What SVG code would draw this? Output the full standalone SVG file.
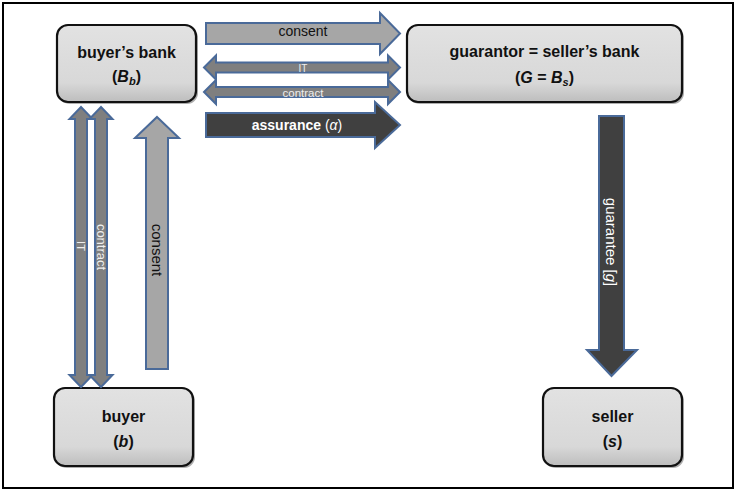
<svg xmlns="http://www.w3.org/2000/svg" width="736" height="491" viewBox="0 0 736 491">
<style>
.frame{fill:#fff;stroke:#000;stroke-width:2}
.box{fill:url(#boxg);stroke:#111;stroke-width:2.2}
.shadow{fill:#777;opacity:0.6}
.bt{font-family:"Liberation Sans",Arial,sans-serif;font-weight:bold;font-size:16px;fill:#111;text-anchor:middle}
.ar{stroke:#4a6a99;stroke-width:2;stroke-linejoin:miter}
.light{fill:#a6a6a6}
.mid{fill:#7f7f7f}
.dark{fill:#404040}
.lt{font-family:"Liberation Sans",Arial,sans-serif;text-anchor:middle}
</style>
<defs>
<linearGradient id="boxg" x1="0" y1="0" x2="0" y2="1">
<stop offset="0" stop-color="#e2e2e2"/>
<stop offset="0.75" stop-color="#d8d8d8"/>
<stop offset="1" stop-color="#bdbdbd"/>
</linearGradient>
</defs>
<rect class="frame" x="3" y="3" width="730" height="485"/>

<g id="buyers-bank">
<rect class="shadow" x="59" y="27" width="139" height="77" rx="11"/>
<rect class="box" x="57" y="25" width="139" height="77" rx="11"/>
<text class="bt" x="126.5" y="58">buyer’s bank</text>
<text class="bt" x="126.5" y="82">(<tspan font-style="italic">B</tspan><tspan font-style="italic" font-size="11" dy="3">b</tspan><tspan dy="-3">)</tspan></text>
</g>

<g id="guarantor">
<rect class="shadow" x="409" y="27" width="275" height="77" rx="11"/>
<rect class="box" x="407" y="25" width="275" height="77" rx="11"/>
<text class="bt" x="544.5" y="57">guarantor = seller’s bank</text>
<text class="bt" x="544.5" y="83">(<tspan font-style="italic">G</tspan> = <tspan font-style="italic">B</tspan><tspan font-style="italic" font-size="11" dy="3">s</tspan><tspan dy="-3">)</tspan></text>
</g>

<g id="buyer">
<rect class="shadow" x="56" y="390" width="139" height="78" rx="11"/>
<rect class="box" x="54" y="388" width="139" height="78" rx="11"/>
<text class="bt" x="123.5" y="422">buyer</text>
<text class="bt" x="123.5" y="447">(<tspan font-style="italic">b</tspan>)</text>
</g>

<g id="seller">
<rect class="shadow" x="545" y="390" width="139" height="78" rx="11"/>
<rect class="box" x="543" y="388" width="139" height="78" rx="11"/>
<text class="bt" x="612.5" y="422">seller</text>
<text class="bt" x="612.5" y="447">(<tspan font-style="italic">s</tspan>)</text>
</g>

<g id="connectors">
<!-- consent: buyer's bank -> guarantor -->
<path class="ar light" d="M206,23 H380 V13 L400,33.5 L380,54 V44 H206 Z"/>
<text class="lt" x="303" y="36" font-size="14" fill="#111">consent</text>
<!-- IT double arrow -->
<path class="ar mid" d="M204,67.5 L216,55.5 V62.5 H388 V55.5 L400,67.5 L388,79.5 V72.5 H216 V79.5 Z"/>
<text class="lt" x="303" y="71.5" font-size="10" fill="#eee">IT</text>
<!-- contract double arrow -->
<path class="ar mid" d="M204,92 L216,80 V87 H388 V80 L400,92 L388,104 V97 H216 V104 Z"/>
<text class="lt" x="303" y="96.5" font-size="11.5" fill="#eee">contract</text>
<!-- assurance -->
<path class="ar dark" d="M206,113 H375 V102 L400,125 L375,148 V137 H206 Z"/>
<text class="lt" x="297" y="130" font-size="14" fill="#fff"><tspan font-weight="bold">assurance</tspan> (<tspan font-style="italic">α</tspan>)</text>

<!-- vertical IT double arrow -->
<path class="ar mid" d="M81,107 L92.5,119 H87 V375 H92.5 L81,387 L69.5,375 H75 V119 H69.5 Z"/>
<text class="lt" transform="translate(81,246) rotate(90)" font-size="11" fill="#eee" dominant-baseline="central">IT</text>
<!-- vertical contract double arrow -->
<path class="ar mid" d="M101,107 L112.5,119 H107 V375 H112.5 L101,387 L89.5,375 H95 V119 H89.5 Z"/>
<text class="lt" transform="translate(101,247) rotate(90)" font-size="13" fill="#eee" dominant-baseline="central">contract</text>
<!-- vertical consent: buyer -> buyer's bank -->
<path class="ar light" d="M157,117 L179,138 H168 V369 H146 V138 H135 Z"/>
<text class="lt" transform="translate(157,250) rotate(90)" font-size="15" fill="#111" dominant-baseline="central">consent</text>
<!-- guarantee: guarantor -> seller -->
<path class="ar dark" d="M599,116 H624 V350 H637 L611.5,376 L587,350 H599 Z"/>
<text class="lt" transform="translate(611.5,242) rotate(90)" font-size="15" fill="#fff" dominant-baseline="central">guarantee [<tspan font-style="italic">g</tspan>]</text>
</g>
</svg>
